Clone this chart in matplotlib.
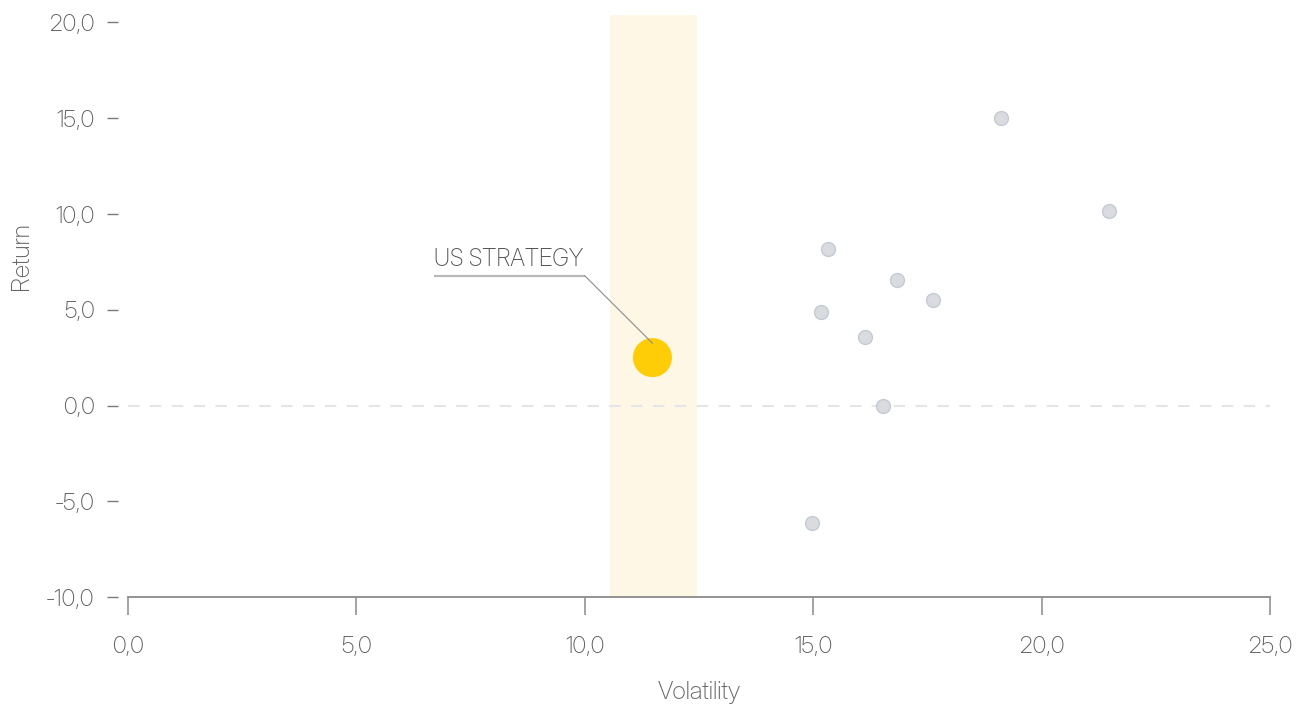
import matplotlib
matplotlib.use("Agg")
import matplotlib.pyplot as plt

# ---- data ----
peer_volatility = [19.10, 21.48, 15.32, 16.84, 17.62, 15.17, 16.14, 16.53, 14.98]
peer_return = [15.03, 10.18, 8.19, 6.54, 5.50, 4.89, 3.59, -0.03, -6.11]
strategy_name = "US STRATEGY"
strategy_volatility = [11.48]
strategy_return = [2.51]
band_range = [10.55, 12.45]
x_ticks = [0, 5, 10, 15, 20, 25]
y_ticks = [-10, -5, 0, 5, 10, 15, 20]
x_label = "Volatility"
y_label = "Return"

# ---- fonts ----
plt.rcParams["font.family"] = ["Inter Display", "DejaVu Sans"]
plt.rcParams["font.weight"] = 200
plt.rcParams["axes.labelweight"] = 200

W, H = 1301, 706
fig = plt.figure(figsize=(W / 100, H / 100), dpi=100)
left, right = 127.8 / W, 1270.3 / W
bottom, top = 1 - 597.3 / H, 1 - 15 / H
ax = fig.add_axes([left, bottom, right - left, top - bottom])

ax.set_xlim(0, 25)
ax.set_ylim(-10, 20.39)

# band
ax.axvspan(band_range[0], band_range[1], color="#fef7e6", zorder=0, lw=0)

# zero line
ax.axhline(0, color="#e4e5e7", lw=1.5, ls=(0, (5.5, 5)), zorder=1)

# peers
ax.scatter(peer_volatility, peer_return, s=100, facecolor="#d9dbdf",
           edgecolor="#c3cbd5", linewidth=1.0, zorder=3)
# strategy
ax.scatter(strategy_volatility, strategy_return, s=790, facecolor="#ffcc08",
           edgecolor="none", zorder=4)

# annotation
sx, sy = strategy_volatility[0], strategy_return[0]
elbow_x, elbow_y = 10.0, 6.78
start_x = 6.70
ax.plot([start_x, elbow_x], [elbow_y, elbow_y], color="#b9b9b9", lw=1.6,
        solid_capstyle="butt", zorder=5)
ax.plot([elbow_x, sx], [elbow_y, sy + 0.75], color="#8c8c8c", lw=0.8, zorder=5)
ax.text(start_x, elbow_y + 0.5, strategy_name, fontsize=17, color="#555555",
        ha="left", va="baseline", zorder=6)

# spines
for s in ["top", "right", "left"]:
    ax.spines[s].set_visible(False)
ax.spines["bottom"].set_color("#8a8a8a")
ax.spines["bottom"].set_linewidth(1.3)
ax.spines["left"].set_position(("outward", 7))

ax.set_xticks(x_ticks)
ax.set_yticks(y_ticks)
fmt = lambda v: f"{v:.1f}".replace(".", ",")
ax.set_xticklabels([fmt(v) for v in x_ticks])
ax.set_yticklabels([fmt(v) for v in y_ticks])

ax.tick_params(axis="x", direction="out", length=13, width=1.1, color="#8a8a8a",
               pad=15, labelsize=16.8, labelcolor="#5e5e5e")
ax.tick_params(axis="y", direction="out", length=8, width=1.0, color="#7a7a7a",
               pad=9, labelsize=16.8, labelcolor="#5e5e5e")

ax.set_xlabel(x_label, fontsize=18, color="#666666")
ax.xaxis.set_label_coords(0.5, (597.3 - 692) / (597.3 - 15))
ax.xaxis.label.set_va("center")
ax.set_ylabel(y_label, fontsize=18, color="#666666")
ax.yaxis.set_label_coords((22 - 127.8) / (1270.3 - 127.8), (597.3 - 256) / (597.3 - 15))
ax.yaxis.label.set_va("center")

fig.savefig("out.png", dpi=100)
